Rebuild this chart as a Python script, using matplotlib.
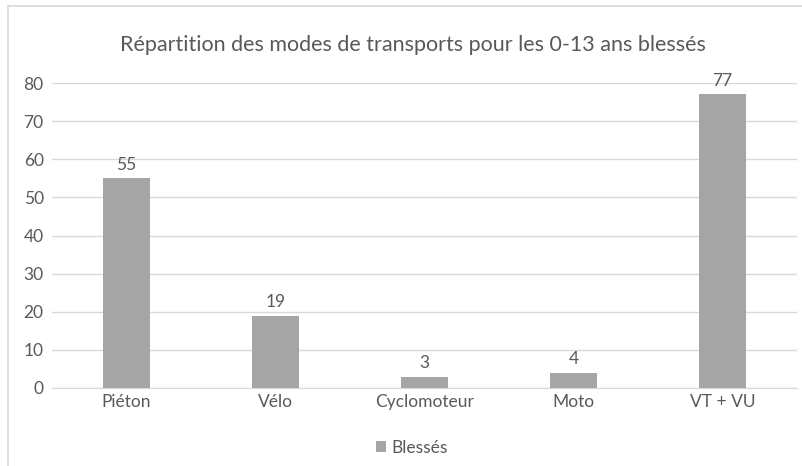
import matplotlib.pyplot as plt
from matplotlib.patches import Rectangle

categories = ['Piéton', 'Vélo', 'Cyclomoteur', 'Moto', 'VT + VU']
blesses = [55, 19, 3, 4, 77]
yticks = [0, 10, 20, 30, 40, 50, 60, 70, 80]

plt.rcParams['font.family'] = ['Lato', 'DejaVu Sans']
text_col = '#595959'
bar_col = '#a5a5a5'
grid_col = '#d9d9d9'

fig = plt.figure(figsize=(8.02, 4.66), dpi=100)
# outer chart border, runs off the right and bottom edges
fig.patches.append(Rectangle((8 / 802, -0.1), 1.0, 1 - 6 / 466 + 0.1,
                             transform=fig.transFigure, fill=False,
                             edgecolor=grid_col, linewidth=1.2))

ax = fig.add_axes([52 / 802, 1 - 388 / 466, 745 / 802, (388 - 83) / 466])
x = range(len(categories))
bars = ax.bar(x, blesses, width=0.31, color=bar_col, zorder=3, label='Blessés')
for rect, v in zip(bars, blesses):
    ax.annotate(str(v), (rect.get_x() + rect.get_width() / 2, v),
                xytext=(0, 4), textcoords='offset points',
                ha='center', va='bottom', fontsize=12.5, color=text_col)

ax.set_xlim(-0.5, len(categories) - 0.5)
ax.set_ylim(0, 80)
ax.set_yticks(yticks)
ax.set_xticks(list(x))
ax.set_xticklabels(categories)
ax.grid(axis='y', color=grid_col, linewidth=1, zorder=0)
ax.tick_params(length=0, labelsize=12.5, colors=text_col)
ax.tick_params(axis='y', pad=6)
ax.tick_params(axis='x', pad=4)
for s in ['top', 'right', 'left']:
    ax.spines[s].set_visible(False)
ax.spines['bottom'].set_color(grid_col)

fig.text(413 / 802, 1 - 45 / 466, 'Répartition des modes de transports pour les 0-13 ans blessés',
         ha='center', va='center', fontsize=15.5, color=text_col)

fig.legend(handles=[bars], labels=['Blessés'], loc='center',
           bbox_to_anchor=(412 / 802, 1 - 448 / 466), frameon=False,
           fontsize=12.5, handlelength=0.6, handleheight=0.6, handletextpad=0.3,
           labelcolor=text_col)

fig.savefig('out.png', dpi=100)
